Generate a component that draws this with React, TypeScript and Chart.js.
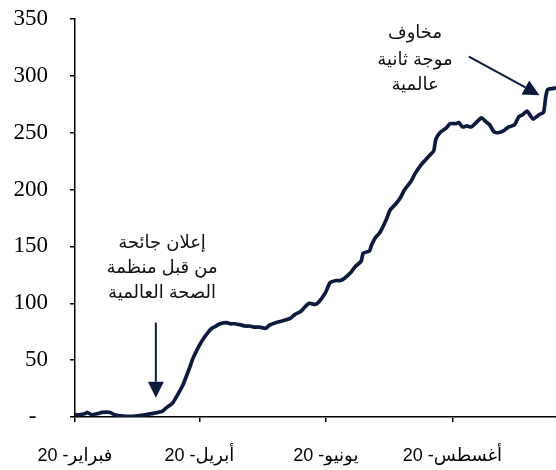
import React, { useEffect, useRef } from "react";
import { Chart, registerables } from "chart.js";

Chart.register(...registerables);

// Days counted from 1 February 2020
const dayOffsets = [
  0, 2, 5, 6, 8, 11, 13, 17, 19, 22, 27, 30, 34, 37, 40, 42, 44, 47, 49, 52,
  55, 57, 60, 62, 64, 66, 68, 70, 73, 75, 77, 80, 82, 84, 87, 89, 92, 94, 97,
  99, 101, 104, 106, 109, 111, 113, 116, 118, 121, 123, 126, 128, 130, 133,
  135, 138, 139, 142, 143, 145, 147, 150, 152, 155, 157, 159, 162, 164, 167,
  169, 171, 173, 174, 176, 179, 181, 184, 185, 187, 189, 191, 193, 196, 198,
  200, 202, 204, 207, 209, 212, 214, 216, 218, 220, 221, 224, 226, 227, 228,
  231, 232,
];
const values = [
  2, 2, 3, 4, 2, 3, 4, 4, 2, 1, 0.5, 1, 2, 3, 4, 5, 8, 12, 18, 28,
  42, 52, 63, 69, 74, 78, 80, 82, 83, 82, 82, 81, 80, 80, 79, 79, 78, 81, 83,
  84, 85, 87, 90, 93, 97, 100, 99, 102, 110, 118, 120, 120, 122, 127,
  132, 137, 144, 146, 151, 158, 162, 173, 182, 188, 193, 200, 207, 214, 222,
  226, 230, 234, 244, 250, 254, 258, 258, 259, 255, 256, 255, 258, 263, 260,
  257, 251, 250, 252, 255, 257, 264, 266, 269, 264, 262, 266, 268, 281, 288,
  289, 290,
];

const xTickDays = [0, 60, 121, 182];
const xTickLabels = ["20 -فبراير", "20 -أبريل", "20 -يونيو", "20 -أغسطس"];
const yTickValues = [0, 50, 100, 150, 200, 250, 300, 350];

const note1Lines = ["إعلان جائحة", "من قبل منظمة", "الصحة العالمية"];
const note2Lines = ["مخاوف", "موجة ثانية", "عالمية"];

// annotation anchors in data units (day, value)
const note1X = 42;
const note1Ys = [153, 131, 109];
const arrow1 = { x1: 39, y1: 83, x2: 39, y2: 17 };
const note2X = 164;
const note2Ys = [338, 314, 292];
const arrow2 = { x1: 190, y1: 317, x2: 224, y2: 283 };

const NAVY = "#0b1a3d";

function drawArrow(ctx: CanvasRenderingContext2D, x1: number, y1: number, x2: number, y2: number) {
  const ang = Math.atan2(y2 - y1, x2 - x1);
  const headLen = 16;
  const headHalf = 8;
  const bx = x2 - headLen * Math.cos(ang);
  const by = y2 - headLen * Math.sin(ang);
  ctx.strokeStyle = NAVY;
  ctx.fillStyle = NAVY;
  ctx.lineWidth = 2;
  ctx.beginPath();
  ctx.moveTo(x1, y1);
  ctx.lineTo(bx, by);
  ctx.stroke();
  ctx.beginPath();
  ctx.moveTo(x2, y2);
  ctx.lineTo(bx + headHalf * Math.sin(ang), by - headHalf * Math.cos(ang));
  ctx.lineTo(bx - headHalf * Math.sin(ang), by + headHalf * Math.cos(ang));
  ctx.closePath();
  ctx.fill();
}

const notesPlugin = {
  id: "notes",
  afterDatasetsDraw(chart: any) {
    const { ctx, scales } = chart;
    const x = scales.x;
    const y = scales.y;
    ctx.save();
    ctx.font = '18px "Liberation Sans", "DejaVu Sans", sans-serif';
    ctx.fillStyle = "#111";
    ctx.textAlign = "center";
    ctx.textBaseline = "middle";
    note1Lines.forEach((t, i) => {
      ctx.fillText(t, x.getPixelForValue(note1X), y.getPixelForValue(note1Ys[i]));
    });
    note2Lines.forEach((t, i) => {
      ctx.fillText(t, x.getPixelForValue(note2X), y.getPixelForValue(note2Ys[i]));
    });
    drawArrow(
      ctx,
      x.getPixelForValue(arrow1.x1),
      y.getPixelForValue(arrow1.y1),
      x.getPixelForValue(arrow1.x2),
      y.getPixelForValue(arrow1.y2)
    );
    drawArrow(
      ctx,
      x.getPixelForValue(arrow2.x1),
      y.getPixelForValue(arrow2.y1),
      x.getPixelForValue(arrow2.x2),
      y.getPixelForValue(arrow2.y2)
    );
    ctx.restore();
  },
};

export default function App() {
  const canvasRef = useRef<HTMLCanvasElement | null>(null);

  useEffect(() => {
    if (!canvasRef.current) return;
    const chart = new Chart(canvasRef.current, {
      type: "line",
      data: {
        datasets: [
          {
            data: dayOffsets.map((d, i) => ({ x: d, y: values[i] })),
            borderColor: NAVY,
            borderWidth: 3.7,
            pointRadius: 0,
            tension: 0.2,
            fill: false,
          },
        ],
      },
      options: {
        animation: false,
        responsive: true,
        maintainAspectRatio: false,
        layout: { padding: { top: 19, left: 0, right: 0, bottom: 0 } },
        plugins: {
          legend: { display: false },
          tooltip: { enabled: false },
        },
        scales: {
          x: {
            type: "linear",
            min: 0,
            max: 232,
            afterFit: (scale: any) => {
              scale.height = 53;
              scale.paddingLeft = 0;
              scale.paddingRight = 0;
            },
            afterBuildTicks: (scale: any) => {
              scale.ticks = xTickDays.map((v) => ({ value: v }));
            },
            grid: {
              drawOnChartArea: false,
              drawTicks: true,
              tickLength: 5,
              color: "#000",
              lineWidth: 1.5,
            },
            border: { display: true, color: "#000", width: 1.5 },
            ticks: {
              autoSkip: false,
              maxRotation: 0,
              padding: 23,
              color: "#000",
              font: { family: '"Liberation Sans", "DejaVu Sans", sans-serif', size: 18 },
              callback: (_v: any, i: number) => xTickLabels[i],
            },
          },
          y: {
            min: 0,
            max: 350,
            afterFit: (scale: any) => {
              scale.width = 75;
              scale.paddingTop = 0;
              scale.paddingBottom = 0;
            },
            afterBuildTicks: (scale: any) => {
              scale.ticks = yTickValues.map((v) => ({ value: v }));
            },
            grid: {
              drawOnChartArea: false,
              drawTicks: true,
              tickLength: 5,
              color: "#000",
              lineWidth: 1.5,
            },
            border: { display: true, color: "#000", width: 1.5 },
            ticks: {
              padding: 22,
              color: "#000",
              font: { family: '"Liberation Serif", "Times New Roman", serif', size: 23 },
              callback: (v: any) => (v === 0 ? "-\u00a0\u00a0" : String(v)),
            },
          },
        },
      },
      plugins: [notesPlugin],
    });
    return () => chart.destroy();
  }, []);

  return (
    <div style={{ position: "fixed", left: 0, top: 0, width: 556, height: 470, background: "#fff" }}>
      <canvas ref={canvasRef} />
    </div>
  );
}
